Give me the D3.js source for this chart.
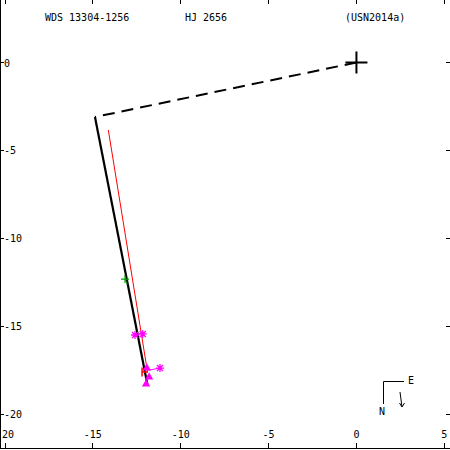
<!DOCTYPE html>
<html>
<head>
<meta charset="utf-8">
<script src="https://cdn.jsdelivr.net/npm/d3@7"></script>
<style>
  body { margin: 0; background: #fff; }
  text { font-family: "DejaVu Sans Mono", monospace; font-size: 10px; fill: #000; }
</style>
</head>
<body>
<div id="chart"></div>
<script>
// header texts
var titles = ["WDS 13304-1256", "HJ 2656", "(USN2014a)"];
var xTicks = [-20, -15, -10, -5, 0, 5];
var yTicks = [0, -5, -10, -15, -20];

// linear fit and line to closest approach (arcsec)
var fitLine = [[-14.88, -3.10], [-11.89, -18.34]];
var closeLine = [[0, 0], [-14.88, -3.10]];
var oldLine = [[-14.12, -3.84], [-11.89, -17.60]];

// observations: [x, y, fitX, fitY]
var greenObs = [[-13.17, -12.32, -13.04, -12.62]];
var starObs = [
    [-12.60, -15.50, -12.45, -15.50],
    [-12.16, -15.44, -12.40, -15.44],
    [-11.18, -17.38, -11.81, -17.50]
];
var triObs = [[-11.93, -17.38], [-11.80, -17.89], [-11.97, -18.29]];
var redObs = [[-12.20, -17.60, -11.86, -17.60]];

var width = 450, height = 450;
var magenta = "#ff00ff", green = "#00a000", red = "#ff0000";

var svg = d3.select("#chart").append("svg")
    .attr("width", width)
    .attr("height", height);

var x = d3.scaleLinear().domain([-20, 5]).range([5, 444.3]);
var y = d3.scaleLinear().domain([0, -20]).range([62.5, 414.1]);
var line = d3.line().x(d => x(d[0])).y(d => y(d[1]));

//frame
var axes = svg.append("g").attr("stroke", "#000").attr("shape-rendering", "crispEdges");
axes.append("line").attr("x1", 0.5).attr("x2", 0.5).attr("y1", 0).attr("y2", 449);
axes.append("line").attr("x1", 0).attr("x2", 450).attr("y1", 448.5).attr("y2", 448.5);

xTicks.forEach(t => {
    axes.append("line").attr("x1", x(t)).attr("x2", x(t)).attr("y1", 0).attr("y2", 4);
    axes.append("line").attr("x1", x(t)).attr("x2", x(t)).attr("y1", 443).attr("y2", 449);
    svg.append("text").attr("x", x(t)).attr("y", 438)
        .attr("text-anchor", "middle").text(t);
});
yTicks.forEach(t => {
    axes.append("line").attr("x1", 0).attr("x2", 4).attr("y1", y(t)).attr("y2", y(t));
    axes.append("line").attr("x1", 446).attr("x2", 450).attr("y1", y(t)).attr("y2", y(t));
    svg.append("text").attr("x", 4).attr("y", y(t) + 4).text(t);
});

// titles
var titleX = [45, 185, 345];
titles.forEach((t, i) => {
    svg.append("text").attr("x", titleX[i]).attr("y", 21).text(t);
});

// red line
svg.append("path").attr("d", line(oldLine))
    .attr("fill", "none").attr("stroke", red).attr("stroke-width", 1);

// dashed line from primary
svg.append("path").attr("d", line(closeLine))
    .attr("fill", "none").attr("stroke", "#000").attr("stroke-width", 2)
    .attr("stroke-dasharray", "12,7");

// fit line
svg.append("path").attr("d", line(fitLine))
    .attr("fill", "none").attr("stroke", "#000").attr("stroke-width", 2.2);

// primary cross
svg.append("path")
    .attr("d", `M${x(0) - 11},${y(0)}H${x(0) + 11}M${x(0)},${y(0) - 11}V${y(0) + 11}`)
    .attr("stroke", "#000").attr("stroke-width", 2);

// green obs
greenObs.forEach(d => {
    svg.append("line").attr("x1", x(d[0])).attr("y1", y(d[1])).attr("x2", x(d[2])).attr("y2", y(d[3]))
        .attr("stroke", green);
    svg.append("path")
        .attr("d", `M${x(d[0]) - 4},${y(d[1])}H${x(d[0]) + 4}M${x(d[0])},${y(d[1]) - 4}V${y(d[1]) + 4}`)
        .attr("stroke", green).attr("stroke-width", 1.2);
});

// magenta asterisks
starObs.forEach(d => {
    svg.append("line").attr("x1", x(d[0])).attr("y1", y(d[1])).attr("x2", x(d[2])).attr("y2", y(d[3]))
        .attr("stroke", magenta);
    var cx = x(d[0]), cy = y(d[1]), r = 4;
    svg.append("path")
        .attr("d", `M${cx - r},${cy}H${cx + r}M${cx},${cy - r}V${cy + r}` +
            `M${cx - 3},${cy - 3}L${cx + 3},${cy + 3}M${cx - 3},${cy + 3}L${cx + 3},${cy - 3}`)
        .attr("stroke", magenta).attr("stroke-width", 1.3);
});

// red marker
redObs.forEach(d => {
    svg.append("path")
        .attr("d", `M${x(d[0])},${y(d[1]) - 4.5}V${y(d[1]) + 4.5}M${x(d[0])},${y(d[1])}L${x(d[2])},${y(d[3])}`)
        .attr("stroke", red).attr("stroke-width", 1.5);
});

// magenta triangles
svg.selectAll("path.tri")
    .data(triObs)
    .enter()
    .append("path")
    .classed("tri", true)
    .attr("d", d3.symbol().type(d3.symbolTriangle).size(30))
    .attr("transform", d => `translate(${x(d[0])},${y(d[1])})`)
    .attr("fill", magenta);

// N-E orientation
var ne = svg.append("g").attr("stroke", "#000").attr("fill", "none");
ne.append("path").attr("d", "M383.5,404V381.5H404");
ne.append("path").attr("d", "M400,392L402,407M399.5,403L402,407L404.5,403");
svg.append("text").attr("x", 408).attr("y", 384).text("E");
svg.append("text").attr("x", 379).attr("y", 415).text("N");
</script>
</body>
</html>
